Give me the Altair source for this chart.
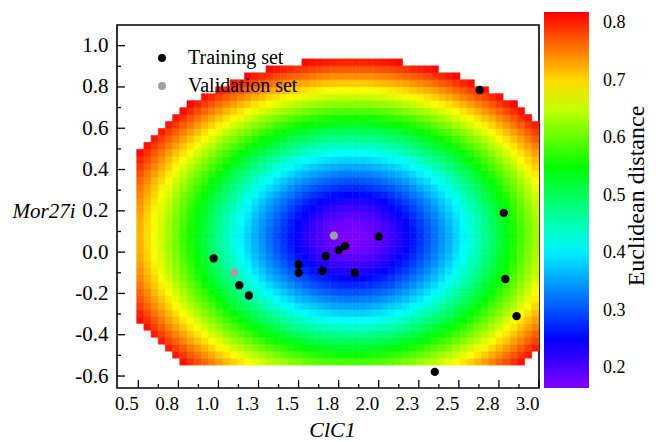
import numpy as np
import pandas as pd
import altair as alt

# ---- data ----
train_x = [0.97, 1.13, 1.19, 1.50, 1.50, 1.65, 1.67, 1.75, 1.79, 1.85, 2.00, 2.63, 2.78, 2.79, 2.86, 2.35]
train_y = [-0.03, -0.16, -0.21, -0.06, -0.10, -0.09, -0.02, 0.01, 0.03, -0.10, 0.075, 0.785, 0.19, -0.13, -0.31, -0.58]
val_x = [1.10, 1.72]
val_y = [-0.10, 0.08]

x_major = [0.5, 0.75, 1.0, 1.25, 1.5, 1.75, 2.0, 2.25, 2.5, 2.75, 3.0]
x_minor = [0.625, 0.875, 1.125, 1.375, 1.625, 1.875, 2.125, 2.375, 2.625, 2.875]
y_major = [-0.6, -0.4, -0.2, 0.0, 0.2, 0.4, 0.6, 0.8, 1.0]
y_minor = [-0.5, -0.3, -0.1, 0.1, 0.3, 0.5, 0.7, 0.9]
cbar_ticks = [0.2, 0.3, 0.4, 0.5, 0.6, 0.7, 0.8]
cbar_title = ["Euclidean distance"]

# distance surface parameters
center = (1.835, 0.075)
spread = (1.881, 1.077)
d_min, d_max = 0.165, 0.82
grid_x0, grid_x1, n_cols = 0.49, 3.0, 56
grid_y0, n_rows, cell_h = -0.547, 44, 0.0337

color_stops = [0.165, 0.25, 0.41, 0.55, 0.68, 0.82]
color_list = ["#8000ff", "#0000ff", "#00ffff", "#00ff00", "#ffff00", "#ff0000"]

# ---- build tables ----
cell_w = (grid_x1 - grid_x0) / n_cols
rows = []
for i in range(n_cols):
    x0 = grid_x0 + i * cell_w
    xc = x0 + cell_w / 2
    for j in range(n_rows):
        y0 = grid_y0 + j * cell_h
        yc = y0 + cell_h / 2
        d = np.sqrt(d_min**2 + ((xc - center[0]) / spread[0])**2 + ((yc - center[1]) / spread[1])**2)
        if d <= d_max:
            rows.append({"x0": x0, "x1": x0 + cell_w, "y0": y0, "y1": y0 + cell_h, "d": float(d)})
grid = pd.DataFrame(rows)

pts = pd.DataFrame({
    "x": train_x + val_x,
    "y": train_y + val_y,
    "set": ["Training set"] * len(train_x) + ["Validation set"] * len(val_x),
})

FONT = "Liberation Serif"
W, H = 422, 363
xs = alt.Scale(domain=[0.367, 3.0], nice=False, zero=False)
ys = alt.Scale(domain=[-0.658, 1.1], nice=False, zero=False)
cscale = alt.Scale(domain=color_stops, range=color_list, interpolate="rgb")

xaxis = alt.Axis(values=x_major, format=".1f", ticks=False, tickSize=0, domain=False, grid=False,
                 labelFont=FONT, labelFontSize=19, labelColor="black", labelPadding=6,
                 labelAlign="right", labelFlush=False,
                 title="ClC1", titleFont=FONT, titleFontSize=22, titleFontStyle="italic",
                 titleFontWeight="normal", titleColor="black", titlePadding=6, titleX=215)
yaxis = alt.Axis(values=y_major, ticks=False, tickSize=0, domain=False, grid=False,
                 labelExpr="replace(format(datum.value, '.1f'), '\u2212', '-')",
                 labelFont=FONT, labelFontSize=21, labelColor="black", labelPadding=9,
                 title="Mor27i", titleFont=FONT, titleFontSize=21, titleFontStyle="italic",
                 titleFontWeight="normal", titleColor="black", titleAngle=0, titleAlign="right",
                 titleBaseline="middle", titleX=-42, titleY=186)

heat = alt.Chart(grid).mark_rect(strokeWidth=0.6, clip=True).encode(
    x=alt.X("x0:Q", scale=xs, axis=xaxis),
    x2="x1:Q",
    y=alt.Y("y0:Q", scale=ys, axis=yaxis),
    y2="y1:Q",
    color=alt.Color("d:Q", scale=cscale, legend=alt.Legend(
        orient="none", legendX=427, legendY=-13, direction="vertical",
        gradientLength=376, gradientThickness=45, gradientStrokeWidth=0,
        values=cbar_ticks, format=".1f", labelOverlap=False,
        labelFont=FONT, labelFontSize=18, labelColor="black", labelOffset=14,
        title=None, padding=0)),
    stroke=alt.Stroke("d:Q", scale=cscale, legend=None),
)

points = alt.Chart(pts).mark_circle(size=70, opacity=1, strokeWidth=0).encode(
    x=alt.X("x:Q", scale=xs),
    y=alt.Y("y:Q", scale=ys),
    fill=alt.Fill("set:N", scale=alt.Scale(domain=["Training set", "Validation set"],
                                           range=["#000000", "#a0a0a0"]),
                  legend=alt.Legend(orient="none", legendX=35, legendY=23, title=None,
                                    symbolType="circle", symbolSize=64, symbolStrokeWidth=0,
                                    labelFont=FONT, labelFontSize=20, labelColor="black",
                                    labelOffset=16, rowPadding=8, padding=0)),
)

xmaj = alt.Chart(pd.DataFrame({"v": x_major})).mark_rule(color="black", strokeWidth=1.3).encode(
    x=alt.X("v:Q", scale=xs), y=alt.value(H), y2=alt.value(H - 8))
xmin = alt.Chart(pd.DataFrame({"v": x_minor})).mark_rule(color="black", strokeWidth=1.3).encode(
    x=alt.X("v:Q", scale=xs), y=alt.value(H), y2=alt.value(H - 4))
ymaj = alt.Chart(pd.DataFrame({"v": y_major})).mark_rule(color="black", strokeWidth=1.3).encode(
    y=alt.Y("v:Q", scale=ys), x=alt.value(0), x2=alt.value(8))
ymin = alt.Chart(pd.DataFrame({"v": y_minor})).mark_rule(color="black", strokeWidth=1.3).encode(
    y=alt.Y("v:Q", scale=ys), x=alt.value(0), x2=alt.value(4))

ctitle = alt.Chart(pd.DataFrame({"t": cbar_title})).mark_text(
    angle=270, align="center", baseline="alphabetic", font=FONT, fontSize=24, color="black"
).encode(text="t:N", x=alt.value(527), y=alt.value(171))

chart = alt.layer(heat, points, xmaj, xmin, ymaj, ymin, ctitle).resolve_scale(
    color="independent", fill="independent"
).properties(
    width=W, height=H,
    autosize=alt.AutoSizeParams(type="none"),
    padding={"left": 109, "top": 17, "right": 109, "bottom": 52},
    background="white",
).configure_view(stroke="black", strokeWidth=1.6)

chart.save("out.html", embed_options={"renderer": "svg", "actions": False})
